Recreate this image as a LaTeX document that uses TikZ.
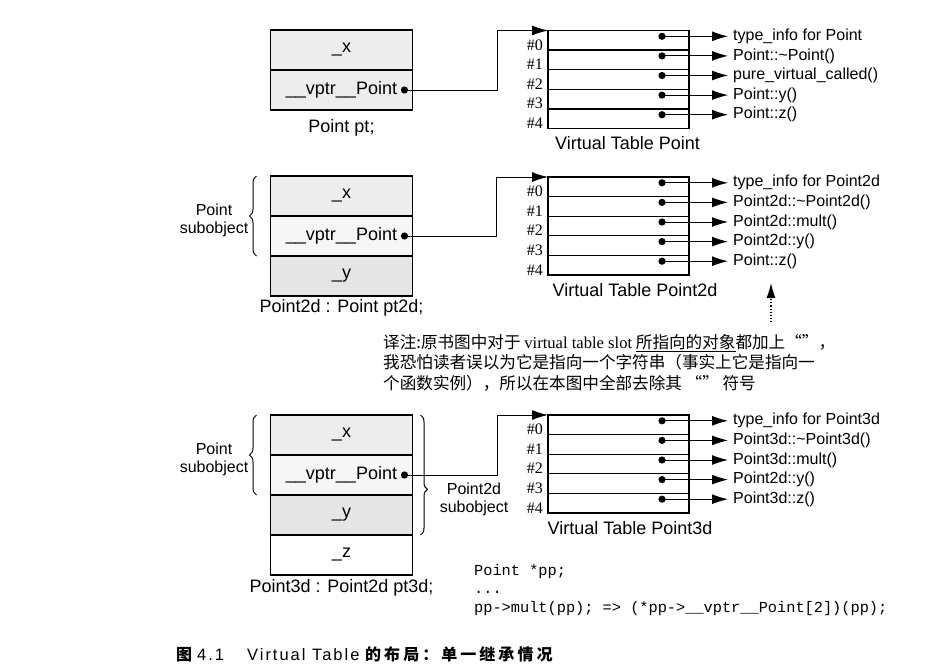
\documentclass[tikz,border=0pt]{standalone}
\usepackage{fontspec}
\setmainfont{Liberation Sans}
\setmonofont{Liberation Mono}
\newfontfamily\numfont{Liberation Serif}
\newfontfamily\cjk{Noto Sans CJK SC}
\newfontfamily\capfont[LetterSpace=19]{Noto Sans CJK SC}
\newfontfamily\caplatin[LetterSpace=12]{Liberation Sans}
\usetikzlibrary{positioning, arrows.meta, decorations.pathreplacing}

\tikzset{
  field/.style={draw, line width=1.5pt, minimum width=142pt, minimum height=40pt,
    inner sep=0pt, outer sep=0pt, font=\fontsize{18}{20}\selectfont},
  slotrow/.style={draw, line width=1.3pt, minimum width=141pt, minimum height=19.6pt,
    inner sep=0pt, outer sep=0pt},
  slotlabel/.style={anchor=west, inner sep=5pt, font=\fontsize{16}{18}\selectfont},
  slotarrow/.style={line width=1pt, -{Latex[length=16pt,width=10pt]}},
  ptrarrow/.style={line width=1pt, -{Latex[length=16pt,width=10pt]}},
  rowno/.style={anchor=base east, inner sep=5pt, font=\numfont\fontsize{16}{18}\selectfont},
  title/.style={font=\fontsize{18}{20}\selectfont},
  subnote/.style={align=center, font=\fontsize{16}{18}\selectfont},
  objbrace/.style={decorate, decoration={brace, amplitude=7pt}, line width=1pt},
  code/.style={anchor=base west, inner sep=0pt, font=\ttfamily\fontsize{15.3}{18}\selectfont},
  note/.style={anchor=base west, inner sep=0pt, font=\cjk\fontsize{16.6}{20}\selectfont},
  captext/.style={anchor=base west, inner sep=0pt}
}

\begin{document}
\begin{tikzpicture}[x=1pt, y=-1pt]
\useasboundingbox (0,0) rectangle (930,672);

% Point pt
\node[field, fill=gray!14] (ptx) at (341.5,50) {\_x};
\node[field, fill=gray!14, below=0pt of ptx] (ptv) {\_\_vptr\_\_Point};
\coordinate (ptdot) at ([xshift=-8pt]ptv.east);
\fill (ptdot) circle (3.6pt);
\node[title] (ptname) at (341.5,128) {Point pt;};

\foreach \i in {0,...,4}
  \node[slotrow] (vt1r\i) at (618.5,{40.3+19.6*\i}) {};
\foreach \i/\t in {0/type\_info for Point, 1/Point::\textasciitilde Point(),
    2/pure\_virtual\_called(), 3/Point::y(), 4/Point::z()} {
  \coordinate (vt1d\i) at ([xshift=-27pt, yshift=4pt]vt1r\i.east);
  \fill (vt1d\i) circle (3.6pt);
  \node[slotlabel, right=66pt of vt1d\i] (vt1f\i) {\t};
  \draw[slotarrow] (vt1d\i) -- (vt1f\i);
  \node[rowno] at (vt1r\i.south west) {\#\i};
}
\node[title] (vt1name) at (627.5,143) {Virtual Table Point};
\draw[ptrarrow] (ptdot) -- ++(93,0) |- (vt1r0.north west);

% Point2d pt2d
\node[field, fill=gray!14] (p2x) at (341.5,196) {\_x};
\node[field, fill=gray!7, below=0pt of p2x] (p2v) {\_\_vptr\_\_Point};
\node[field, fill=gray!20, below=0pt of p2v] (p2y) {\_y};
\coordinate (p2dot) at ([xshift=-8pt]p2v.east);
\fill (p2dot) circle (3.6pt);
\node[title] (p2name) at (341.5,308) {Point2d : Point pt2d;};
\draw[objbrace] ([xshift=-14pt]p2v.south west) -- ([xshift=-14pt]p2x.north west);
\node[subnote] (p2sub) at (214,220) {Point\\subobject};

\foreach \i in {0,...,4}
  \node[slotrow] (vt2r\i) at (618.5,{186.8+19.6*\i}) {};
\foreach \i/\t in {0/type\_info for Point2d, 1/Point2d::\textasciitilde Point2d(),
    2/Point2d::mult(), 3/Point2d::y(), 4/Point::z()} {
  \coordinate (vt2d\i) at ([xshift=-27pt, yshift=4pt]vt2r\i.east);
  \fill (vt2d\i) circle (3.6pt);
  \node[slotlabel, right=66pt of vt2d\i] (vt2f\i) {\t};
  \draw[slotarrow] (vt2d\i) -- (vt2f\i);
  \node[rowno] at (vt2r\i.south west) {\#\i};
}
\node[title] (vt2name) at (635,290) {Virtual Table Point2d};
\draw[ptrarrow] (p2dot) -- ++(92,0) |- (vt2r0.north west);

% translator's note
\coordinate (notefoot) at (771,322);
\coordinate (notetip) at (771,283);
\draw[dotted, line width=1.1pt, -{Latex[length=15pt,width=9pt]}] (notefoot) -- (notetip);
\node[note] (note1) at (383,348.5)
  {译注:原书图中对于 {\numfont virtual table slot} \underline{所指向的对象}都加上“”，};
\node[note] (note2) at (383,368.5)
  {我恐怕读者误以为它是指向一个字符串（事实上它是指向一};
\node[note] (note3) at (383,389.5)
  {个函数实例），所以在本图中全部去除其 “” 符号};

% Point3d pt3d
\node[field, fill=gray!14] (p3x) at (341.5,435) {\_x};
\node[field, fill=gray!7, below=0pt of p3x] (p3v) {\_\_vptr\_\_Point};
\node[field, fill=gray!20, below=0pt of p3v] (p3y) {\_y};
\node[field, fill=white, below=0pt of p3y] (p3z) {\_z};
\coordinate (p3dot) at ([xshift=-8pt]p3v.east);
\fill (p3dot) circle (3.6pt);
\node[title] (p3name) at (341.5,588) {Point3d : Point2d pt3d;};
\draw[objbrace] ([xshift=-14pt]p3v.south west) -- ([xshift=-14pt]p3x.north west);
\node[subnote] (p3sub) at (214,459) {Point\\subobject};
\draw[objbrace, decoration={aspect=0.62}] ([xshift=8pt]p3x.north east) -- ([xshift=8pt]p3y.south east);
\node[subnote] (p3sub2) at (474,499) {Point2d\\subobject};

\foreach \i in {0,...,4}
  \node[slotrow] (vt3r\i) at (618.5,{424.8+19.6*\i}) {};
\foreach \i/\t in {0/type\_info for Point3d, 1/Point3d::\textasciitilde Point3d(),
    2/Point3d::mult(), 3/Point2d::y(), 4/Point3d::z()} {
  \coordinate (vt3d\i) at ([xshift=-27pt, yshift=4pt]vt3r\i.east);
  \fill (vt3d\i) circle (3.6pt);
  \node[slotlabel, right=66pt of vt3d\i] (vt3f\i) {\t};
  \draw[slotarrow] (vt3d\i) -- (vt3f\i);
  \node[rowno] at (vt3r\i.south west) {\#\i};
}
\node[title] (vt3name) at (630,528) {Virtual Table Point3d};
\draw[ptrarrow] (p3dot) -- ++(93,0) |- (vt3r0.north west);

% code
\node[code] (code1) at (474,575) {Point *pp;};
\node[code] (code2) at (474,593.5) {...};
\node[code] (code3) at (474,612) {pp->mult(pp); => (*pp->\_\_vptr\_\_Point[2])(pp);};

% caption
\node[captext, font=\capfont\bfseries\fontsize{16}{18}\selectfont] (cap1) at (176,660) {图};
\node[captext, font=\caplatin\fontsize{16.5}{18}\selectfont] (cap2) at (197,660) {4.1};
\node[captext, font=\caplatin\fontsize{16.5}{18}\selectfont] (cap3) at (247,660) {Virtual Table};
\node[captext, font=\capfont\bfseries\fontsize{16}{18}\selectfont] (cap4) at (365,660) {的布局：单一继承情况};
\end{tikzpicture}
\end{document}
